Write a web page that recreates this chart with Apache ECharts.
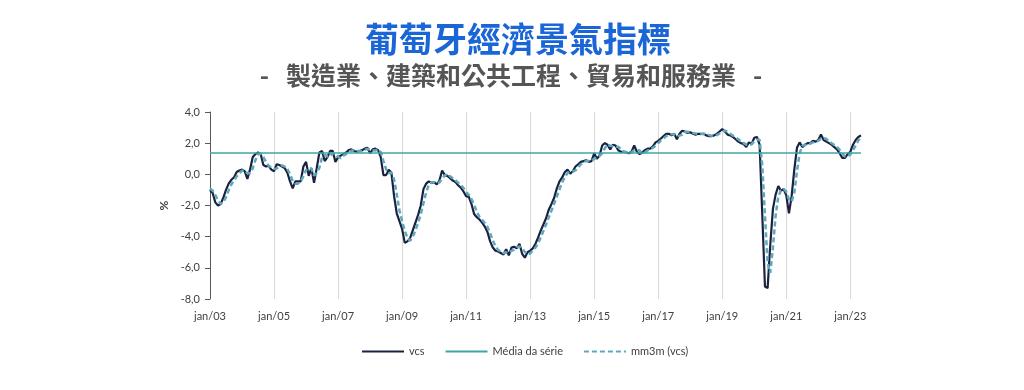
<!DOCTYPE html>
<html>
<head>
<meta charset="utf-8">
<script src="https://cdn.jsdelivr.net/npm/echarts@6/dist/echarts.min.js"></script>
<style>
  html, body { margin: 0; padding: 0; background: #ffffff; }
  #chart { width: 1024px; height: 390px; }
</style>
</head>
<body>
<div id="chart"></div>
<script>
// ---- Data (monthly, jan/2003 .. mai/2023) ----
const monthNames = ['jan','fev','mar','abr','mai','jun','jul','ago','set','out','nov','dez'];
const startYear = 2003;

const vcs = [
  -1.0, -1.2, -1.8, -2.0, -1.9, -1.5, -1.0, -0.6, -0.35, -0.2, 0.15, 0.25,
  0.3, 0.2, -0.3, 0.3, 1.1, 1.3, 1.4, 1.3, 0.6, 0.5, 0.55, 0.3,
  0.2, 0.65, 0.6, 0.5, 0.4, 0.1, -0.45, -0.9, -0.45, -0.45, -0.45, 0.5,
  0.8, -0.1, 0.4, -0.55, 0.4, 1.4, 1.5, 0.85, 1.1, 1.5, 1.5, 0.8,
  1.1, 1.2, 1.3, 1.4, 1.55, 1.6, 1.5, 1.45, 1.5, 1.55, 1.65, 1.7,
  1.35, 1.6, 1.65, 1.55, 1.1, -0.05, -0.05, 0.3, 0.1, -1.4, -2.5, -3.0,
  -3.5, -4.4, -4.3, -4.1, -3.6, -3.1, -2.6, -2.0, -0.95, -0.6, -0.45, -0.55,
  -0.5, -0.65, -0.4, 0.25, -0.05, -0.1, -0.25, -0.4, -0.5, -0.7, -0.85, -1.1,
  -1.4, -1.45, -1.9, -2.55, -2.75, -2.9, -3.1, -3.35, -3.7, -4.3, -4.7, -4.9,
  -4.95, -5.05, -5.15, -4.8, -5.2, -4.7, -4.65, -4.75, -4.45, -5.1, -5.35, -5.0,
  -4.9, -4.75, -4.45, -4.05, -3.6, -3.2, -2.8, -2.25, -1.9, -1.5, -0.9, -0.45,
  -0.2, 0.15, 0.3, 0.05, 0.2, 0.5, 0.65, 0.8, 0.85, 0.9, 0.8, 0.85,
  1.35, 1.0, 1.2, 1.85, 2.0, 1.9, 1.6, 1.9, 1.85, 1.55, 1.45, 1.45,
  1.4, 1.35, 1.45, 1.85, 1.45, 1.3, 1.4, 1.55, 1.65, 1.65, 1.8, 2.05,
  2.15, 2.3, 2.45, 2.6, 2.6, 2.5, 2.6, 2.25, 2.6, 2.8, 2.75, 2.65,
  2.7, 2.6, 2.55, 2.6, 2.6, 2.6, 2.5, 2.45, 2.45, 2.5, 2.6, 2.75,
  2.9, 2.75, 2.55, 2.5, 2.4, 2.25, 2.1, 2.0, 1.95, 1.75, 2.05, 1.95,
  2.35, 2.4, 1.9, -2.6, -7.2, -7.3, -4.5, -2.2, -1.3, -0.75, -1.05, -0.95,
  -1.35, -2.5, -1.4, 0.3, 1.7, 2.05, 1.75, 1.9, 2.0, 2.0, 2.15, 2.1,
  2.2, 2.55, 2.2, 2.1, 2.0, 1.9, 1.75, 1.6, 1.35, 1.05, 1.05, 1.3,
  1.45, 1.9, 2.2, 2.4, 2.5
];

const mm3m = [
  -0.9, -1.05, -1.33, -1.67, -1.9, -1.8, -1.47, -1.03, -0.65, -0.38, -0.13, 0.07,
  0.23, 0.25, 0.07, 0.07, 0.37, 0.9, 1.27, 1.33, 1.1, 0.8, 0.55, 0.45,
  0.35, 0.38, 0.48, 0.58, 0.5, 0.33, 0.02, -0.42, -0.6, -0.6, -0.45, -0.13,
  0.28, 0.4, 0.37, -0.08, 0.08, 0.42, 1.1, 1.25, 1.15, 1.15, 1.37, 1.27,
  1.13, 1.03, 1.2, 1.3, 1.42, 1.52, 1.55, 1.52, 1.48, 1.5, 1.57, 1.63,
  1.57, 1.55, 1.53, 1.6, 1.43, 0.87, 0.33, 0.07, 0.12, -0.33, -1.27, -2.3,
  -3.0, -3.63, -4.07, -4.27, -4.0, -3.6, -3.1, -2.57, -1.85, -1.18, -0.67, -0.53,
  -0.5, -0.57, -0.52, -0.27, -0.07, 0.03, -0.13, -0.25, -0.38, -0.53, -0.68, -0.88,
  -1.12, -1.32, -1.58, -1.97, -2.4, -2.73, -2.92, -3.12, -3.38, -3.78, -4.23, -4.63,
  -4.85, -4.97, -5.05, -5.0, -5.05, -4.9, -4.85, -4.7, -4.62, -4.77, -4.97, -5.15,
  -5.08, -4.88, -4.7, -4.42, -4.03, -3.62, -3.2, -2.75, -2.32, -1.88, -1.43, -0.95,
  -0.52, -0.17, 0.08, 0.17, 0.18, 0.25, 0.45, 0.65, 0.77, 0.85, 0.85, 0.85,
  1.0, 1.07, 1.18, 1.35, 1.68, 1.92, 1.83, 1.8, 1.78, 1.77, 1.62, 1.48,
  1.43, 1.4, 1.4, 1.55, 1.58, 1.53, 1.38, 1.42, 1.53, 1.62, 1.7, 1.83,
  2.0, 2.17, 2.3, 2.45, 2.55, 2.57, 2.57, 2.45, 2.48, 2.55, 2.72, 2.73,
  2.7, 2.65, 2.62, 2.58, 2.58, 2.6, 2.57, 2.52, 2.47, 2.47, 2.52, 2.62,
  2.75, 2.8, 2.73, 2.6, 2.48, 2.38, 2.25, 2.12, 2.02, 1.9, 1.92, 1.92,
  2.12, 2.23, 2.22, 0.57, -2.63, -5.7, -6.33, -4.67, -2.67, -1.42, -1.03, -0.92,
  -1.12, -1.6, -1.75, -1.2, 0.2, 1.35, 1.83, 1.9, 1.88, 1.97, 2.05, 2.08,
  2.15, 2.28, 2.32, 2.28, 2.1, 2.0, 1.88, 1.75, 1.57, 1.33, 1.15, 1.13,
  1.27, 1.55, 1.85, 2.17, 2.37
];

const meanValue = 1.36;   // Média da série
const yTicks = { min: -8, max: 4, interval: 2 };

const categories = vcs.map((_, i) => {
  const y = startYear + Math.floor(i / 12);
  return monthNames[i % 12] + '/' + String(y % 100).padStart(2, '0');
});

// ---- Chart ----
const chart = echarts.init(document.getElementById('chart'), null, { renderer: 'canvas' });
const txt = '#404040';
const labelFont = "Lato, 'Open Sans', sans-serif";

chart.setOption({
  animation: false,
  backgroundColor: '#ffffff',
  title: [
    {
      text: '葡萄牙經濟景氣指標',
      left: 513, top: 17, textAlign: 'center',
      textStyle: { color: '#1a66d6', fontSize: 34, fontWeight: 'bold', fontFamily: "'Noto Sans CJK TC', sans-serif" }
    },
    {
      text: '-   製造業、建築和公共工程、貿易和服務業   -',
      left: 506, top: 58, textAlign: 'center',
      textStyle: { color: '#555555', fontSize: 25, fontWeight: 'bold', fontFamily: "'Noto Sans CJK TC', sans-serif" }
    }
  ],
  legend: {
    top: 341, left: 356,
    itemWidth: 42, itemHeight: 10, itemGap: 20,
    itemStyle: { opacity: 0 },
    textStyle: { color: txt, fontSize: 11, fontFamily: labelFont },
    data: ['vcs', 'Média da série', 'mm3m (vcs)']
  },
  grid: { left: 210, right: 163, top: 112, bottom: 91, containLabel: false },
  xAxis: {
    type: 'category',
    data: categories,
    boundaryGap: false,
    axisLine: { show: false },
    axisTick: { show: false },
    axisLabel: {
      interval: (idx) => idx % 24 === 0,
      color: txt, fontSize: 11, fontFamily: labelFont, margin: 12
    },
    splitLine: {
      show: true,
      interval: (idx) => idx % 24 === 0 && idx > 0,
      lineStyle: { color: '#d9d9d9', width: 1 }
    }
  },
  yAxis: {
    type: 'value',
    min: yTicks.min, max: yTicks.max, interval: yTicks.interval,
    name: '%',
    nameLocation: 'middle', nameRotate: 90, nameGap: 40,
    nameTextStyle: { color: txt, fontSize: 12, fontWeight: 'bold', fontFamily: labelFont },
    axisLine: { show: true, lineStyle: { color: '#595959', width: 1 } },
    axisTick: { show: true, length: 5, lineStyle: { color: '#595959' } },
    splitLine: { show: false },
    axisLabel: {
      color: txt, fontSize: 11, fontFamily: labelFont, margin: 10,
      formatter: (v) => v.toFixed(1).replace('.', ',')
    }
  },
  series: [
    {
      name: 'vcs', type: 'line', data: vcs,
      symbol: 'none', smooth: false,
      lineStyle: { color: '#1b2240', width: 2.2 },
      itemStyle: { color: '#1b2240' },
      z: 3
    },
    {
      name: 'Média da série', type: 'line', data: [],
      symbol: 'none',
      lineStyle: { color: '#3fa6a6', width: 1.5 },
      itemStyle: { color: '#3fa6a6' },
      markLine: {
        silent: true, symbol: ['none', 'none'],
        label: { show: false },
        lineStyle: { color: '#3fa6a6', width: 1.5, type: 'solid' },
        data: [{ yAxis: meanValue }]
      },
      z: 2
    },
    {
      name: 'mm3m (vcs)', type: 'line', data: mm3m,
      symbol: 'none', smooth: false,
      lineStyle: { color: '#5ea9bc', width: 2.5, type: [5, 3] },
      itemStyle: { color: '#5ea9bc' },
      z: 4
    }
  ]
});
</script>
</body>
</html>
